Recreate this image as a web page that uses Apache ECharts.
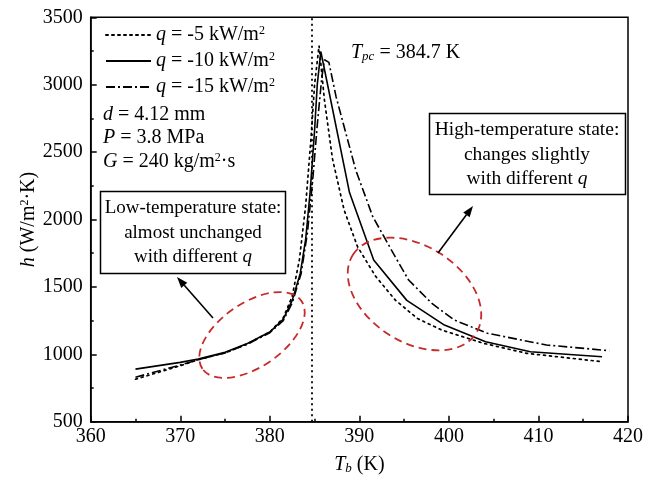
<!DOCTYPE html>
<html>
<head>
<meta charset="utf-8">
<title>h vs Tb</title>
<script src="https://cdn.jsdelivr.net/npm/echarts@6/dist/echarts.min.js"></script>
<style>
html, body { margin: 0; padding: 0; background: #fff; }
#myChart { width: 646px; height: 480px; }
</style>
</head>
<body>
<div id="myChart"></div>
<script>
// q = -5 kW/m2 (dotted)
var tb5 = [365, 370, 372, 375, 377.5, 380, 381.5, 382.5, 383.3, 384, 384.6, 385, 385.5, 386.1, 387, 388.3, 389.8, 391.8, 394, 396.5, 399.2, 403.9, 408.7, 417.1];
var h5  = [815, 915, 960, 1010, 1078, 1165, 1270, 1430, 1700, 2100, 2600, 3000, 3290, 2886, 2450, 2070, 1798, 1580, 1403, 1265, 1180, 1081, 1007, 945];
// q = -10 kW/m2 (solid)
var tb10 = [365, 370, 372, 375, 377.5, 380, 381.5, 382.5, 383.4, 384, 384.5, 385, 385.3, 385.7, 386.5, 388.9, 391.6, 395.3, 399.5, 404.1, 409.1, 417.1];
var h10  = [890, 940, 965, 1015, 1080, 1165, 1260, 1400, 1600, 1850, 2200, 2660, 3000, 3245, 2985, 2200, 1700, 1400, 1217, 1093, 1019, 982];
// q = -15 kW/m2 (dash-dot)
var tb15 = [365, 370, 372, 375, 377.5, 380, 381.5, 382.5, 383.5, 384.2, 384.8, 385.3, 385.8, 386.1, 386.6, 387.4, 389.6, 391.5, 394, 395.5, 398.1, 400.6, 404.3, 410.9, 417.9];
var h15  = [830, 920, 960, 1010, 1075, 1160, 1250, 1380, 1600, 1900, 2300, 2700, 3050, 3185, 3166, 2911, 2367, 2021, 1724, 1551, 1378, 1254, 1156, 1069, 1027];

var seriesNames = ['q5', 'q10', 'q15'];
var qValues = ['-5', '-10', '-15'];
var tPc = 384.7;

var xMin = 360, xMax = 420, xStep = 10;
var yMin = 500, yMax = 3500, yStep = 500;

var serif = 'Liberation Serif';

function pairs(xs, ys) {
  return xs.map(function (x, i) { return [x, ys[i]]; });
}

// arrow = line + filled head
function arrow(x1, y1, x2, y2) {
  var ang = Math.atan2(y2 - y1, x2 - x1);
  var len = 11, half = 4;
  var bx = x2 - len * Math.cos(ang), by = y2 - len * Math.sin(ang);
  var px = -Math.sin(ang) * half, py = Math.cos(ang) * half;
  return [
    { type: 'line', shape: { x1: x1, y1: y1, x2: bx, y2: by }, style: { stroke: '#000', lineWidth: 1.6 }, z: 100 },
    { type: 'polygon', shape: { points: [[x2, y2], [bx + px, by + py], [bx - px, by - py]] }, style: { fill: '#000' }, z: 100 }
  ];
}

function redEllipse(cx, cy, rx, ry, rot) {
  return {
    type: 'ellipse', x: cx, y: cy, rotation: rot, z: 90,
    shape: { cx: 0, cy: 0, rx: rx, ry: ry },
    style: { fill: 'none', stroke: '#c62a2a', lineWidth: 1.8, lineDash: [8, 5] }
  };
}

function txt(x, y, text, align, size) {
  return {
    type: 'text', x: x, y: y, z: 100,
    style: {
      text: text, fill: '#000', font: (size || 20) + 'px "' + serif + '"',
      textAlign: align || 'left', textVerticalAlign: 'middle',
      rich: {
        i: { fontStyle: 'italic', fontSize: size || 20, fontFamily: serif },
        s: { fontSize: 12, fontFamily: serif, verticalAlign: 'top', lineHeight: 12 },
        sub: { fontStyle: 'italic', fontSize: 13, fontFamily: serif, verticalAlign: 'bottom', lineHeight: 10 }
      }
    }
  };
}

var graphics = [
  // low-temperature box
  { type: 'rect', shape: { x: 100.5, y: 191.5, width: 185, height: 82 }, style: { fill: '#fff', stroke: '#000', lineWidth: 1.5 }, z: 95 },
  txt(193, 208, 'Low-temperature state:', 'center', 19),
  txt(193, 233, 'almost unchanged', 'center', 19),
  txt(193, 257, 'with different {i|q}', 'center', 19),
  // high-temperature box
  { type: 'rect', shape: { x: 429.5, y: 113.5, width: 196, height: 81 }, style: { fill: '#fff', stroke: '#000', lineWidth: 1.5 }, z: 95 },
  txt(527, 130, 'High-temperature state:', 'center', 19.5),
  txt(527, 155, 'changes slightly', 'center', 19.5),
  txt(527, 179, 'with different {i|q}', 'center', 19.5),
  // parameters
  txt(103, 115, '{i|d} = 4.12 mm'),
  txt(103, 138, '{i|P} = 3.8 MPa'),
  txt(103, 162, '{i|G} = 240 kg/m{s|2}·s'),
  // pseudo-critical temperature
  txt(351, 53, '{i|T}{sub|pc} = ' + tPc + ' K'),
  redEllipse(252, 335, 60, 32, 0.6),
  redEllipse(414.5, 294, 73, 48, -0.567)
].concat(arrow(213, 318, 177, 277), arrow(438, 253, 473, 206));

var axisLineStyle = { color: '#000', width: 1.5 };

var myChart = echarts.init(document.getElementById('myChart'));
myChart.setOption({
  animation: false,
  backgroundColor: '#fff',
  textStyle: { fontFamily: serif },
  grid: {
    left: 90.7, right: 10, top: 17.3, bottom: 58.3,
    show: true, borderColor: '#000', borderWidth: 1.5, backgroundColor: 'transparent'
  },
  legend: {
    orient: 'vertical', left: 100, top: 20,
    itemWidth: 45, itemHeight: 10, itemGap: 6,
    data: seriesNames,
    itemStyle: { color: 'transparent', borderWidth: 0, opacity: 0 },
    formatter: function (name) {
      return '{i|q} = ' + qValues[seriesNames.indexOf(name)] + ' kW/m{s|2}';
    },
    textStyle: {
      fontSize: 20, fontFamily: serif, color: '#000',
      rich: {
        i: { fontStyle: 'italic', fontSize: 20, fontFamily: serif },
        s: { fontSize: 12, fontFamily: serif, verticalAlign: 'top', lineHeight: 12 }
      }
    }
  },
  xAxis: {
    type: 'value', min: xMin, max: xMax, interval: xStep,
    name: '{i|T}{sub|b} (K)', nameLocation: 'middle', nameGap: 33,
    nameTextStyle: {
      fontSize: 20, fontFamily: serif, color: '#000',
      rich: {
        i: { fontStyle: 'italic', fontSize: 20, fontFamily: serif },
        sub: { fontStyle: 'italic', fontSize: 13, fontFamily: serif, verticalAlign: 'bottom', lineHeight: 10 }
      }
    },
    axisLine: { lineStyle: axisLineStyle },
    axisTick: { inside: true, length: 6, lineStyle: axisLineStyle },
    minorTick: { show: true, splitNumber: 2, length: 3, lineStyle: axisLineStyle },
    axisLabel: { color: '#000', fontSize: 20, fontFamily: serif, margin: 5 },
    splitLine: { show: false }
  },
  yAxis: {
    type: 'value', min: yMin, max: yMax, interval: yStep,
    name: '{i|h} (W/m{s|2}·K)', nameLocation: 'middle', nameGap: 52, nameRotate: 90,
    nameMoveOverlap: false,
    nameTextStyle: {
      fontSize: 20, fontFamily: serif, color: '#000',
      rich: {
        i: { fontStyle: 'italic', fontSize: 20, fontFamily: serif },
        s: { fontSize: 12, fontFamily: serif, verticalAlign: 'top', lineHeight: 12 }
      }
    },
    axisLine: { lineStyle: axisLineStyle },
    axisTick: { inside: true, length: 6, lineStyle: axisLineStyle },
    minorTick: { show: true, splitNumber: 2, length: 3, lineStyle: axisLineStyle },
    axisLabel: {
      color: '#000', fontSize: 20, fontFamily: serif, margin: 8,
      formatter: function (v) { return String(v); }
    },
    splitLine: { show: false }
  },
  series: [
    {
      name: seriesNames[0], type: 'line', symbol: 'none', data: pairs(tb5, h5),
      lineStyle: { color: '#000', width: 1.7, type: [2, 4], cap: 'round' },
      itemStyle: { color: '#000' },
      markLine: {
        silent: true, symbol: 'none', label: { show: false },
        lineStyle: { color: '#000', width: 1.8, type: [2, 3.5] },
        data: [{ xAxis: tPc }]
      }
    },
    {
      name: seriesNames[1], type: 'line', symbol: 'none', data: pairs(tb10, h10),
      lineStyle: { color: '#000', width: 1.6, type: 'solid' },
      itemStyle: { color: '#000' }
    },
    {
      name: seriesNames[2], type: 'line', symbol: 'none', data: pairs(tb15, h15),
      lineStyle: { color: '#000', width: 1.6, type: [9, 3, 2, 3] },
      itemStyle: { color: '#000' }
    }
  ],
  graphic: graphics
});
</script>
</body>
</html>
